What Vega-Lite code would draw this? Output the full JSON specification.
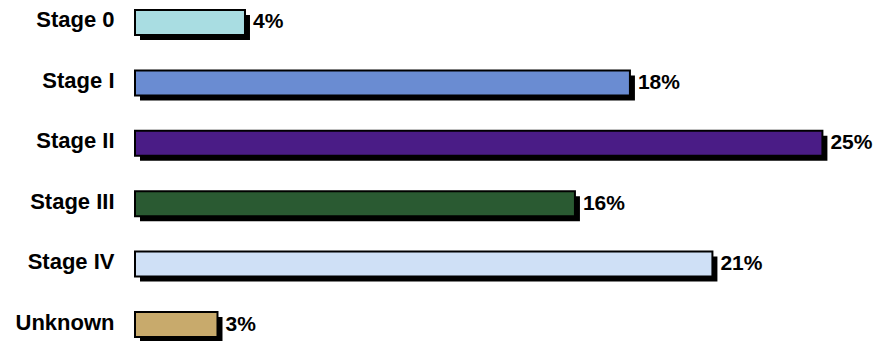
{
  "$schema": "https://vega.github.io/schema/vega-lite/v6.json",
  "autosize": "none",
  "width": 738,
  "height": 347,
  "padding": {"left": 135, "top": 0, "right": 0, "bottom": 0},
  "background": "white",
  "config": {"view": {"stroke": null}, "font": "Liberation Sans"},
  "data": {"values": [
    {"stage": "Stage 0", "share": 0.04},
    {"stage": "Stage I", "share": 0.18},
    {"stage": "Stage II", "share": 0.25},
    {"stage": "Stage III", "share": 0.16},
    {"stage": "Stage IV", "share": 0.21},
    {"stage": "Unknown", "share": 0.03}
  ]},
  "encoding": {
    "y": {"field": "stage", "type": "nominal", "sort": null,
      "scale": {"paddingInner": 0.586, "paddingOuter": 0.165},
      "axis": {"title": null, "domain": false, "ticks": false, "grid": false,
        "labelFont": "Liberation Sans", "labelFontWeight": "bold", "labelFontSize": 22,
        "labelColor": "black", "labelPadding": 21, "labelOffset": -2}},
    "x": {"field": "share", "type": "quantitative",
      "scale": {"domain": [0, 0.2684], "nice": false, "zero": true}, "axis": null}
  },
  "layer": [
    {"mark": {"type": "bar", "fill": "black", "xOffset": 5, "yOffset": 5, "cornerRadius": 0}},
    {"mark": {"type": "bar", "stroke": "black", "strokeWidth": 2},
      "encoding": {"fill": {"field": "stage", "type": "nominal", "legend": null,
        "scale": {"domain": ["Stage 0", "Stage I", "Stage II", "Stage III", "Stage IV", "Unknown"],
          "range": ["#a9dde2", "#6a8cd2", "#4a1c86", "#2a5a32", "#cfe0f6", "#c8aa6c"]}}}},
    {"mark": {"type": "text", "align": "left", "baseline": "middle", "dx": 8, "dy": 0,
      "font": "Liberation Sans", "fontWeight": "bold", "fontSize": 21, "color": "black"},
      "encoding": {"text": {"field": "share", "type": "quantitative", "format": ".0%"}}}
  ]
}
